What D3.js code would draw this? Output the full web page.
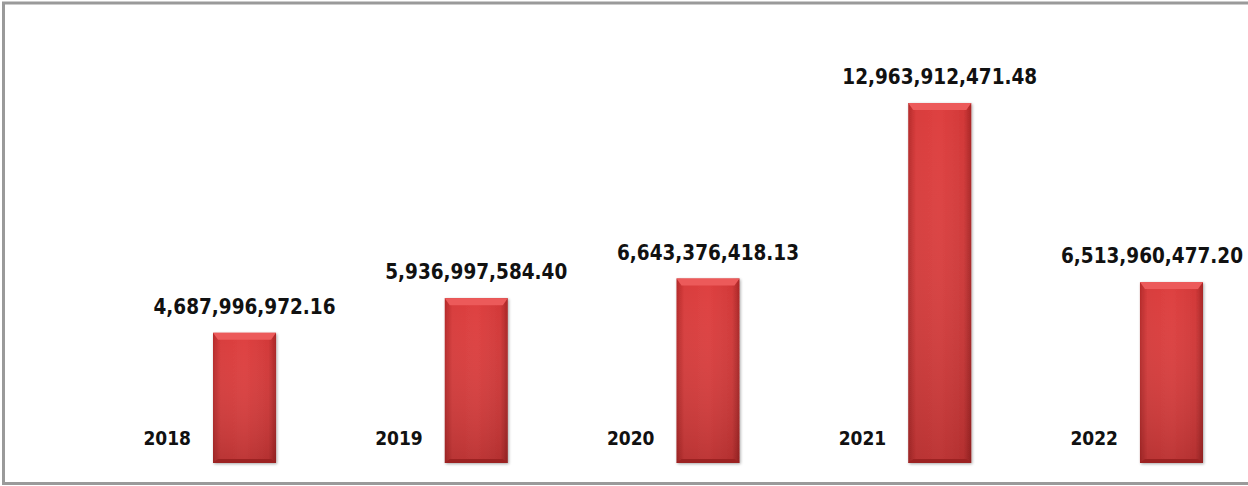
<!DOCTYPE html>
<html><head><meta charset="utf-8">
<script src="https://cdn.jsdelivr.net/npm/d3@7"></script>
<style>html,body{margin:0;padding:0;background:#fff;}svg{display:block;}</style>
</head><body>
<svg id="c" width="1248" height="486"></svg>
<script>
const years = ["2018","2019","2020","2021","2022"];
const values = [4687996972.16, 5936997584.40, 6643376418.13, 12963912471.48, 6513960477.20];
const valueLabels = ["4,687,996,972.16","5,936,997,584.40","6,643,376,418.13","12,963,912,471.48","6,513,960,477.20"];

const svg = d3.select("#c");
const W = 1248, H = 486;
svg.append("rect").attr("x",3.5).attr("y",3).attr("width",W+10).attr("height",H-5.5)
  .attr("fill","none").attr("stroke","#9a9a9a").attr("stroke-width",3);

const defs = svg.append("defs");
const g1 = defs.append("linearGradient").attr("id","barH").attr("x1",0).attr("x2",1).attr("y1",0).attr("y2",0);
g1.append("stop").attr("offset",0).attr("stop-color","#b52a2a");
g1.append("stop").attr("offset",0.12).attr("stop-color","#d83c3c");
g1.append("stop").attr("offset",0.5).attr("stop-color","#de4040");
g1.append("stop").attr("offset",0.88).attr("stop-color","#d23838");
g1.append("stop").attr("offset",1).attr("stop-color","#a82626");
const g2 = defs.append("linearGradient").attr("id","barV").attr("x1",0).attr("x2",0).attr("y1",0).attr("y2",1);
g2.append("stop").attr("offset",0).attr("stop-color","#ffffff").attr("stop-opacity",0.0);
g2.append("stop").attr("offset",1).attr("stop-color","#000000").attr("stop-opacity",0.15);
const f = defs.append("filter").attr("id","sh").attr("x","-20%").attr("y","-20%").attr("width","140%").attr("height","140%");
f.append("feGaussianBlur").attr("in","SourceAlpha").attr("stdDeviation",1.5);
f.append("feOffset").attr("dx",0.5).attr("dy",1).attr("result","b");
f.append("feComponentTransfer").append("feFuncA").attr("type","linear").attr("slope",0.35);
const fm = f.append("feMerge"); fm.append("feMergeNode"); fm.append("feMergeNode").attr("in","SourceGraphic");

const x = d3.scaleBand().domain(years).range([213, 1203]).paddingInner(0.728).paddingOuter(0);
const y = d3.scaleLinear().domain([0, 13000000000]).range([463, 102]);

const bw = x.bandwidth();
const bars = svg.append("g").selectAll("g").data(years).join("g");
bars.each(function(yr,i){
  const g = d3.select(this);
  const x0 = x(yr), y0 = y(values[i]), h = y(0)-y(values[i]);
  g.append("rect").attr("x",x0).attr("y",y0).attr("width",bw).attr("height",h)
    .attr("fill","url(#barH)").attr("filter","url(#sh)");
  g.append("rect").attr("x",x0).attr("y",y0).attr("width",bw).attr("height",h).attr("fill","url(#barV)");
  g.append("path").attr("d",`M${x0},${y0}H${x0+bw}L${x0+bw-5},${y0+7}H${x0+5}Z`).attr("fill","#ec5a5a");
  g.append("path").attr("d",`M${x0},${y0+h}H${x0+bw}L${x0+bw-5},${y0+h-4}H${x0+5}Z`).attr("fill","#9c2222");
  const t = g.append("text").attr("x",x0+bw/2).attr("y",y0-19).attr("text-anchor","middle")
    .attr("font-family","DejaVu Sans Condensed").attr("font-weight","bold").attr("font-size",20.5)
    .attr("fill","#111").text(valueLabels[i]);
  const tw = t.node().getComputedTextLength();
  const cx = Math.min(x0+bw/2, W - 5 - tw/2);
  t.attr("x", cx);
  g.append("text").attr("x",x0-22).attr("y",445).attr("text-anchor","end")
    .attr("font-family","DejaVu Sans Condensed").attr("font-weight","bold").attr("font-size",19)
    .attr("fill","#111").text(yr);
});
</script>
</body></html>
